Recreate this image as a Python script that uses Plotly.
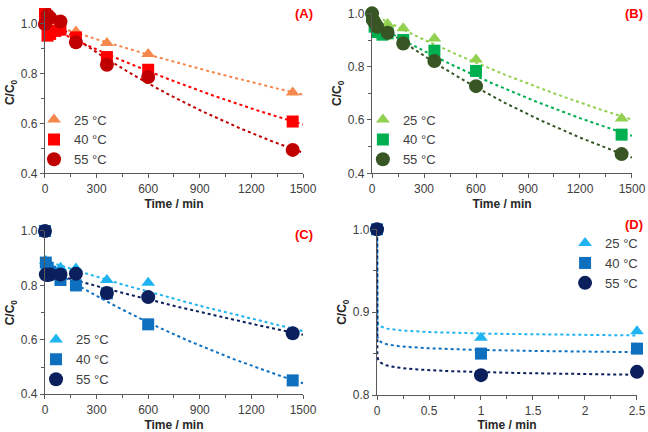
import numpy as np
import plotly.graph_objects as go

labels = ["25 °C", "40 °C", "55 °C"]

# ---- Panel A ----
a_x25 = [0, 180, 360, 600, 1440]
a_y25 = [1.0, 0.970, 0.923, 0.879, 0.725]
a_x40 = [0, 15, 30, 60, 90, 180, 360, 600, 1440]
a_y40 = [1.04, 0.953, 0.960, 0.972, 0.977, 0.946, 0.867, 0.816, 0.608]
a_x55 = [0, 15, 30, 90, 180, 360, 600, 1440]
a_y55 = [1.0, 1.035, 1.025, 1.010, 0.926, 0.836, 0.787, 0.494]

# ---- Panel B ----
b_x25 = [0, 15, 30, 90, 180, 360, 600, 1440]
b_y25 = [1.0, 0.980, 0.970, 0.960, 0.944, 0.906, 0.827, 0.606]
b_x40 = [0, 15, 30, 60, 90, 180, 360, 600, 1440]
b_y40 = [0.99, 0.950, 0.930, 0.920, 0.925, 0.900, 0.860, 0.784, 0.545]
b_x55 = [0, 5, 15, 30, 90, 180, 360, 600, 1440]
b_y55 = [1.0, 0.975, 0.965, 0.950, 0.927, 0.887, 0.821, 0.727, 0.472]

# ---- Panel C ----
c_x25 = [0, 5, 15, 30, 90, 180, 360, 600, 1440]
c_y25 = [1.0, 0.890, 0.880, 0.870, 0.865, 0.862, 0.820, 0.810, 0.630]
c_x40 = [0, 5, 15, 30, 90, 180, 360, 600, 1440]
c_y40 = [1.0, 0.884, 0.865, 0.850, 0.820, 0.800, 0.771, 0.657, 0.451]
c_x55 = [0, 5, 15, 30, 90, 180, 360, 600, 1440]
c_y55 = [1.0, 0.840, 0.838, 0.840, 0.840, 0.843, 0.772, 0.757, 0.624]

# ---- Panel D ----
d_x = [0, 1, 2.5]
d_y25 = [1.0, 0.869, 0.877]
d_y40 = [1.0, 0.850, 0.856]
d_y55 = [1.0, 0.824, 0.828]

col_a = ["#F4874B", "#FF0000", "#C00000"]
col_b = ["#92D050", "#00B050", "#375623"]
col_c = ["#1FB4F0", "#0F70C0", "#0A1F5C"]
symbols = ["triangle-up", "square", "circle"]
sizes = [12, 12, 14]

FONT = "Arial, Liberation Sans, sans-serif"

fig = go.Figure()


def exp_fit(xs, ys, x0, x1, skip_zero=False):
    xs = np.asarray(xs, float)
    ys = np.asarray(ys, float)
    if skip_zero:
        m = xs > 0
        xs, ys = xs[m], ys[m]
    b, lna = np.polyfit(xs, np.log(ys), 1)
    xx = np.linspace(x0, x1, 200)
    return xx, np.exp(lna) * np.exp(b * xx)


def pow_fit(xs, ys, x1):
    xs = np.asarray(xs, float)
    xs = np.where(xs == 0, 1e-20, xs)
    ys = np.asarray(ys, float)
    b, lna = np.polyfit(np.log(xs), np.log(ys), 1)
    xx = np.concatenate([np.logspace(-30, -2, 60), np.linspace(0.011, x1, 200)])
    return xx, np.exp(lna) * xx ** b


panels = [
    ("x", "y", "legend", [(a_x25, a_y25), (a_x40, a_y40), (a_x55, a_y55)], col_a, "A"),
    ("x2", "y2", "legend2", [(b_x25, b_y25), (b_x40, b_y40), (b_x55, b_y55)], col_b, "B"),
    ("x3", "y3", "legend3", [(c_x25, c_y25), (c_x40, c_y40), (c_x55, c_y55)], col_c, "C"),
    ("x4", "y4", "legend4", [(d_x, d_y25), (d_x, d_y40), (d_x, d_y55)], col_c, "D"),
]

for xa, ya, lg, series, cols, name in panels:
    # trend lines first
    for (xs, ys), c in zip(series, cols):
        if name == "D":
            xx, yy = pow_fit(xs, ys, 2.5)
        else:
            xx, yy = exp_fit(xs, ys, 0, 1500, skip_zero=(name == "C"))
        fig.add_trace(go.Scatter(x=xx, y=yy, mode="lines", xaxis=xa, yaxis=ya,
                                 line=dict(color=c, width=2, dash="dot"),
                                 showlegend=False, hoverinfo="skip"))
    for (xs, ys), c, s, sz, lab in zip(series, cols, symbols, sizes, labels):
        fig.add_trace(go.Scatter(x=xs, y=ys, mode="markers", xaxis=xa, yaxis=ya,
                                 name=lab, legend=lg, cliponaxis=False,
                                 marker=dict(color=c, symbol=s, size=sz,
                                             line=dict(width=0))))

axis_common = dict(showline=True, linecolor="#595959", linewidth=1.3,
                   showgrid=False, zeroline=False, ticks="outside", ticklen=4,
                   tickcolor="#595959", tickfont=dict(family=FONT, size=12, color="#404040"),
                   automargin=False)

title_font = dict(family=FONT, size=12, color="#262626", weight="bold")

doms = {
    "A": ([0.0694, 0.4676], [0.5988, 0.9734], [0.4, 1.05], 0.2, 0.1, [0, 1500], 300, 150),
    "B": ([0.5741, 0.9753], [0.5988, 0.9691], [0.4, 1.0], 0.2, 0.1, [0, 1500], 300, 150),
    "C": ([0.0694, 0.4676], [0.0873, 0.4653], [0.4, 1.0], 0.2, 0.1, [0, 1500], 300, 150),
    "D": ([0.5818, 0.9830], [0.0856, 0.4692], [0.8, 1.0], 0.1, 0.05, [0, 2.5], 0.5, 0.25),
}
names = ["A", "B", "C", "D"]
for i, n in enumerate(names):
    xd, yd, yr, ydt, ymn, xr, xdt, xmn = doms[n]
    sfx = "" if i == 0 else str(i + 1)
    fig.update_layout(**{
        "xaxis" + sfx: dict(axis_common, domain=xd, range=xr, anchor="y" + sfx,
                            tick0=0, dtick=xdt,
                            minor=dict(dtick=xmn, ticks="outside", ticklen=3, tickcolor="#595959"),
                            title=dict(text="Time / min", font=title_font, standoff=4)),
        "yaxis" + sfx: dict(axis_common, domain=yd, range=yr, anchor="x" + sfx,
                            tick0=0.4 if n != "D" else 0.8, dtick=ydt, tickformat=".1f",
                            minor=dict(dtick=ymn, ticks="outside", ticklen=3, tickcolor="#595959"),
                            title=dict(text="C/C<sub>0</sub>", font=title_font, standoff=3)),
    })

leg_common = dict(font=dict(family=FONT, size=13, color="#404040"), bgcolor="rgba(0,0,0,0)",
                  itemwidth=30, tracegroupgap=0, xanchor="left", yanchor="top")
fig.update_layout(
    legend=dict(leg_common, x=0.0525, y=0.758),
    legend2=dict(leg_common, x=0.560, y=0.758),
    legend3=dict(leg_common, x=0.0556, y=0.249),
    legend4=dict(leg_common, x=0.872, y=0.472),
)

panel_pos = [(0.486, 0.99, "(A)"), (0.995, 0.99, "(B)"), (0.486, 0.479, "(C)"), (0.996, 0.502, "(D)")]
for x, y, t in panel_pos:
    fig.add_annotation(x=x, y=y, xref="paper", yref="paper", text="<b>" + t + "</b>",
                       showarrow=False, xanchor="right", yanchor="top",
                       font=dict(family=FONT, size=13, color="#FF0000"))

fig.update_layout(width=648, height=432, margin=dict(l=0, r=0, t=0, b=0),
                  paper_bgcolor="white", plot_bgcolor="white",
                  font=dict(family=FONT))

fig.write_html("out.html", config={"displayModeBar": False},
               post_script="document.body.style.margin='0';")
